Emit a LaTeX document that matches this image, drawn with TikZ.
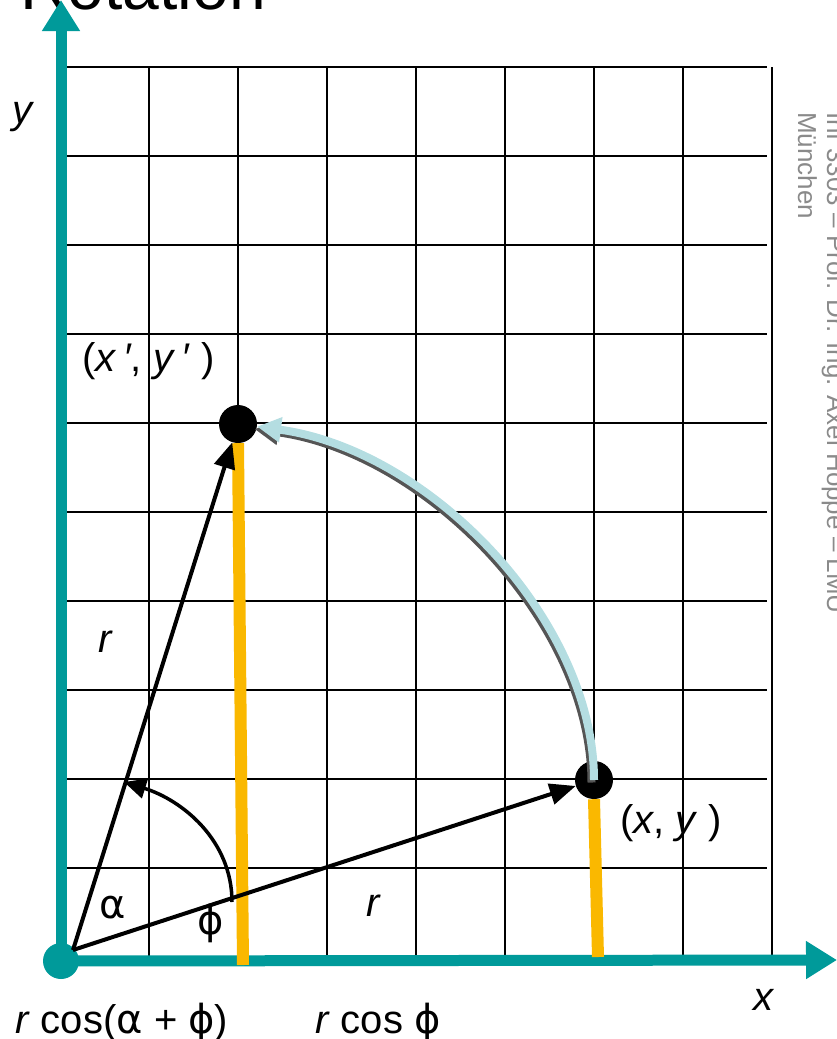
\documentclass[tikz,border=0pt]{standalone}
\usepackage{fontspec}
\setmainfont{Liberation Sans}
\newfontfamily\greekfont{DejaVu Sans}
\usetikzlibrary{arrows.meta}

\definecolor{axisteal}{HTML}{009A9A}
\definecolor{projyellow}{HTML}{FAB800}
\definecolor{rotblue}{HTML}{B4DDE1}
\definecolor{shadegray}{HTML}{555555}
\definecolor{notegray}{HTML}{8A8A8A}

\newcommand{\ga}{{\greekfont α}}
\newcommand{\gp}{{\greekfont ϕ}}

\begin{document}
\begin{tikzpicture}[x=1pt, y=-1pt,
          gridline/.style={line width=1.8pt, black},
          axis/.style={line width=11pt, axisteal, -{Triangle[length=31pt, width=36pt]}},
          proj/.style={line width=12pt, projyellow},
          vec/.style={line width=4pt, -{Triangle[length=26pt, width=21pt]}},
          angarc/.style={line width=3.5pt, -{Triangle[length=22pt, width=20pt]}},
          rot/.style={line width=8pt, rotblue, -{Triangle[length=24pt, width=24pt]}},
          dot/.style={circle, fill=black, minimum size=38pt, inner sep=0pt},
          lbl/.style={inner sep=0pt, anchor=base west, font=\fontsize{40}{42}\selectfont},
          note/.style={inner sep=0pt, anchor=base west, rotate=-90, text=notegray,
                       font=\fontsize{26}{28}\selectfont}
        ]
        \useasboundingbox (0,0) rectangle (837,1039);
        \clip (0,0) rectangle (837,1039);

        % title, cut off at the top
        \node[inner sep=0pt, anchor=base west, font=\fontsize{66}{70}\selectfont] (title) at (20,9) {Rotation};

        % grid
        \foreach \i in {1,...,8}
          \draw[gridline] (60+89*\i,67) -- (60+89*\i,957);
        \foreach \j in {0,...,9}
          \draw[gridline] (60,67+89*\j) -- (767,67+89*\j);

        % axes
        \node[circle, fill=axisteal, minimum size=36pt, inner sep=0pt] (orig) at (61,961) {};
        \coordinate (xtip) at (837,960);
        \coordinate (ytip) at (61,0);
        \draw[axis] (orig.center) -- (xtip);
        \draw[axis] (orig.center) -- (ytip);

        % points
        \coordinate (O) at (73,950);
        \node[dot] (P) at (594,780) {};
        \node[dot] (Q) at (238,424) {};
        \coordinate (Pfoot) at (598,957);
        \coordinate (Qfoot) at (243,965);

        % projections
        \draw[proj] (P.south) -- (Pfoot);
        \draw[proj] (Q.south) -- (Qfoot);

        % vectors
        \draw[vec] (O) -- (P);
        \draw[vec] (O) -- (Q);

        % rotation arc with shadow
        \draw[rot, shadegray, transform canvas={shift={(-2.5pt,-2.5pt)}}]
          (P.center) .. controls (594,620) and (430,450) .. (Q);
        \draw[rot] (P.center) .. controls (594,620) and (430,450) .. (Q);

        % angle
        \coordinate (aS) at (232,902);
        \coordinate (aE) at (124,782);
        \draw[angarc] (aS) .. controls (232,840) and (182,800) .. (aE);

        % labels
        \node[lbl] (ylbl) at (12,123) {\textit{y}};
        \node[lbl] (xlbl) at (753,1010) {\textit{x}};
        \node[lbl] (Qlbl) at (82,371) {(\textit{x}\,\textit{′}, \textit{y}\,\textit{′} )};
        \node[lbl] (Plbl) at (620,833) {(\textit{x}, \textit{y} )};
        \node[lbl] (r1) at (98,652) {\textit{r}};
        \node[lbl] (r2) at (366,916) {\textit{r}};
        \node[lbl] (alpha) at (99,918) {\ga};
        \node[lbl] (phi) at (197,934) {\gp};
        \node[lbl] (cos1) at (15,1033) {\textit{r} cos(\ga\ + \gp)};
        \node[lbl] (cos2) at (315,1033) {\textit{r} cos \gp};

        % side note
        \node[note] (note1) at (827,112) {Inf 3303 – Prof. Dr. Ing. Axel Hoppe – LMU};
        \node[note] (note2) at (798,112) {München};
      \end{tikzpicture}
\end{document}
